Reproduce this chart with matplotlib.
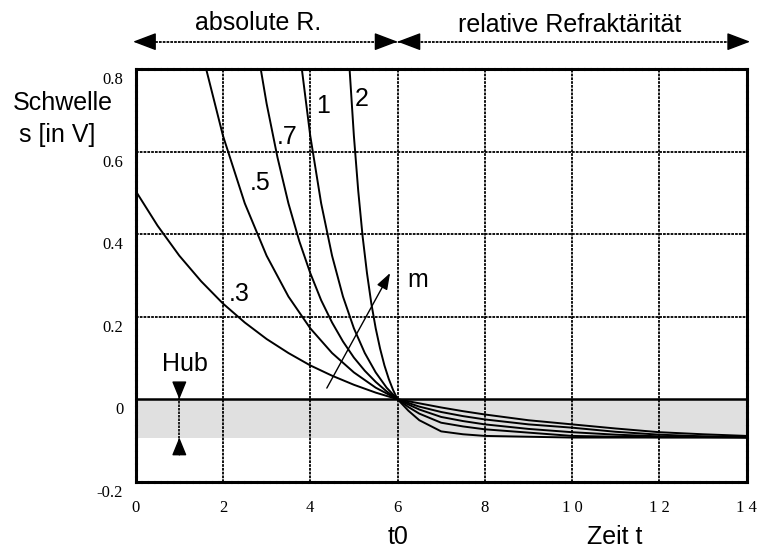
import matplotlib.pyplot as plt
from matplotlib.transforms import ScaledTranslation

# Schwelle vor t0, je Kurve m
t_03 = [0, 0.5, 1, 1.5, 2, 2.5, 3, 3.5, 4, 4.5, 5, 5.5]
s_03 = [0.505, 0.421, 0.348, 0.286, 0.232, 0.186, 0.146, 0.112, 0.082, 0.057, 0.035, 0.016]
t_05 = [1.5, 2, 2.5, 3, 3.5, 4, 4.5, 5, 5.5]
s_05 = [0.849, 0.639, 0.475, 0.348, 0.249, 0.172, 0.112, 0.065, 0.028]
t_07 = [2.75, 3, 3.25, 3.5, 3.75, 4, 4.25, 4.5, 4.75, 5, 5.25, 5.5, 5.75]
s_07 = [0.873, 0.717, 0.586, 0.475, 0.383, 0.306, 0.240, 0.186, 0.140, 0.101, 0.069, 0.042, 0.019]
t_1 = [3.7, 3.75, 4, 4.25, 4.5, 4.75, 5, 5.25, 5.5, 5.75]
s_1 = [0.897, 0.849, 0.639, 0.475, 0.348, 0.249, 0.172, 0.112, 0.065, 0.028]
t_2 = [4.8, 4.9, 5, 5.1, 5.2, 5.3, 5.4, 5.5, 5.6, 5.7, 5.8, 5.9]
s_2 = [1.002, 0.803, 0.639, 0.505, 0.395, 0.306, 0.232, 0.172, 0.123, 0.082, 0.049, 0.022]

# nach t0 (relative Refraktaeritaet)
t_post = [6, 6.25, 6.5, 7, 7.5, 8, 9, 10, 11, 12, 13, 14]
post_03 = [0, -0.005, -0.010, -0.020, -0.029, -0.037, -0.051, -0.061, -0.071, -0.080, -0.085, -0.089]
post_05 = [0, -0.009, -0.018, -0.031, -0.041, -0.049, -0.061, -0.069, -0.079, -0.086, -0.090, -0.092]
post_07 = [0, -0.013, -0.025, -0.043, -0.053, -0.061, -0.072, -0.080, -0.086, -0.090, -0.091, -0.092]
post_1 = [0, -0.019, -0.035, -0.057, -0.066, -0.073, -0.081, -0.089, -0.091, -0.092, -0.092, -0.093]
post_2 = [0, -0.028, -0.051, -0.078, -0.085, -0.089, -0.091, -0.093, -0.093, -0.093, -0.093, -0.093]

m_labels = ['.3', '.5', '.7', '1', '2']
label_pos = [(2.37, 0.255), (2.85, 0.524), (3.47, 0.636), (4.29, 0.711), (5.19, 0.728)]

x_ticks = [0, 2, 4, 6, 8, 10, 12, 14]
x_ticklabels = ['0', '2', '4', '6', '8', '1 0', '1 2', '1 4']
y_ticks = [-0.2, 0, 0.2, 0.4, 0.6, 0.8]
y_ticklabels = ['-0.2', '0', '0.2', '0.4', '0.6', '0.8']

hub_unten = -0.093

sans = 'Liberation Sans'
serif = 'Liberation Serif'
fs = 18

fig = plt.figure(figsize=(7.58, 5.5), dpi=100)
ax = fig.add_axes([0.179, 0.1242, 0.806, 0.7498])
ax.set_xlim(0, 14)
ax.set_ylim(-0.2, 0.8)

ax.axhspan(hub_unten, 0, color='#e0e0e0', zorder=0, lw=0)
dot = (0, (1.5, 0.6))
for xv in x_ticks[1:-1]:
    ax.axvline(xv, color='k', lw=1.3, ls=dot, zorder=1)
for yv in [0.2, 0.4, 0.6]:
    ax.axhline(yv, color='k', lw=1.3, ls=dot, zorder=1)
ax.axhline(0, color='k', lw=1.8, zorder=2)
for sp in ax.spines.values():
    sp.set_linestyle(dot)
    sp.set_linewidth(2.2)

curves = [(t_03, s_03, post_03), (t_05, s_05, post_05), (t_07, s_07, post_07),
          (t_1, s_1, post_1), (t_2, s_2, post_2)]
for t_pre, s_pre, s_post in curves:
    ax.plot(t_pre + t_post, s_pre + s_post, color='k', lw=1.4, zorder=3)

for lab, (lx, ly) in zip(m_labels, label_pos):
    ax.text(lx, ly, lab, fontsize=fs, family=sans, ha='center', va='center')


def kopf(tip, tail, hl, hw):
    ax.annotate('', xy=tip, xytext=tail, annotation_clip=False,
                arrowprops=dict(arrowstyle=f'-|>,head_length={hl},head_width={hw}',
                                color='k', lw=1.0, shrinkA=0, shrinkB=0))


# Pfeil m
kopf((5.83, 0.306), (4.38, 0.027), 1.0, 0.35)
ax.text(6.47, 0.289, 'm', fontsize=fs, family=sans, ha='center', va='center')

# Hub
ax.plot([1, 1], [0.03, -0.12], color='k', lw=1.2, ls=dot, zorder=2)
kopf((1, 0), (1, 0.04), 1.1, 0.45)
kopf((1, hub_unten), (1, -0.135), 1.1, 0.45)
ax.text(1.13, 0.085, 'Hub', fontsize=fs, family=sans, ha='center', va='center')

# Pfeile oben
y_top = 0.867
ax.plot([0.1, 13.95], [y_top, y_top], color='k', lw=1.3, ls=dot, clip_on=False)
for tip, tail in [(-0.06, 0.45), (6, 5.5), (6, 6.5), (14.08, 13.6)]:
    kopf((tip, y_top), (tail, y_top), 1.45, 0.55)

fig.text(258 / 758, 1 - 23 / 550, 'absolute R.', fontsize=fs, family=sans, ha='center', va='center')
fig.text(570 / 758, 1 - 25 / 550, 'relative Refraktärität', fontsize=fs, family=sans, ha='center', va='center')
fig.text(63 / 758, 1 - 103 / 550, 'Schwelle', fontsize=fs, family=sans, ha='center', va='center')
fig.text(57 / 758, 1 - 135 / 550, 's [in V]', fontsize=fs, family=sans, ha='center', va='center')
fig.text(398 / 758, 1 - 537 / 550, 't0', fontsize=fs, family=sans, ha='center', va='center')
fig.text(615 / 758, 1 - 537 / 550, 'Zeit t', fontsize=fs, family=sans, ha='center', va='center')

ax.set_xticks(x_ticks)
ax.set_xticklabels(x_ticklabels, family=serif, fontsize=12)
ax.set_yticks(y_ticks)
ax.set_yticklabels(y_ticklabels, family=serif, fontsize=12)
ax.tick_params(length=0)
ax.tick_params(axis='x', pad=13)
ax.tick_params(axis='y', pad=9)
off = ScaledTranslation(0, -9 / 100, fig.dpi_scale_trans)
for lab in ax.get_yticklabels():
    lab.set_transform(lab.get_transform() + off)

fig.savefig('out.png', dpi=100)
